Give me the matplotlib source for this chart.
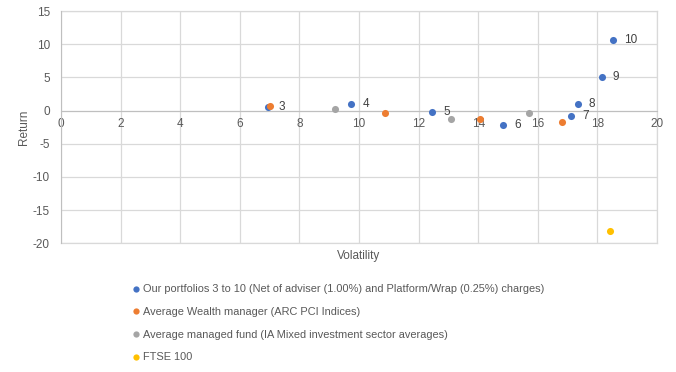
import numpy as np
import matplotlib
matplotlib.use("Agg")
import matplotlib.pyplot as plt
from matplotlib.lines import Line2D

plt.rcParams["font.family"] = ["Liberation Sans", "DejaVu Sans"]
plt.rcParams["axes.unicode_minus"] = False

# Our portfolios 3 to 10
port_names = ["3", "4", "5", "6", "7", "8", "9", "10"]
port_vol = [6.93, 9.74, 12.46, 14.83, 17.11, 17.34, 18.15, 18.52]
port_ret = [0.5, 1.0, -0.2, -2.15, -0.8, 1.05, 5.05, 10.65]

# Average Wealth manager (ARC PCI)
wealth_vol = [7.0, 10.87, 14.06, 16.81]
wealth_ret = [0.75, -0.35, -1.2, -1.65]

# Average managed fund (IA Mixed)
fund_vol = [9.21, 13.08, 15.70]
fund_ret = [0.25, -1.25, -0.3]

# FTSE 100
ftse_vol = [18.42]
ftse_ret = [-18.1]

labels = [
    "Our portfolios 3 to 10 (Net of adviser (1.00%) and Platform/Wrap (0.25%) charges)",
    "Average Wealth manager (ARC PCI Indices)",
    "Average managed fund (IA Mixed investment sector averages)",
    "FTSE 100",
]
colors = ["#4472C4", "#ED7D31", "#A5A5A5", "#FFC000"]
txt = "#595959"
grid = "#D9D9D9"

fig = plt.figure(figsize=(6.76, 3.72), dpi=100)
ax = fig.add_axes([61 / 676, 1 - 243.3 / 372, 596 / 676, 232.3 / 372])

ax.scatter(port_vol, port_ret, s=26, color=colors[0], zorder=3, linewidths=0)
ax.scatter(wealth_vol, wealth_ret, s=26, color=colors[1], zorder=3, linewidths=0)
ax.scatter(fund_vol, fund_ret, s=26, color=colors[2], zorder=3, linewidths=0)
ax.scatter(ftse_vol, ftse_ret, s=26, color=colors[3], zorder=3, linewidths=0)

for name, x, y in zip(port_names, port_vol, port_ret):
    ax.annotate(name, (x, y), xytext=(8, 0), textcoords="offset points",
                va="center", ha="left", fontsize=8.5, color="#404040")

ax.set_xlim(0, 20)
ax.set_ylim(-20, 15)
ax.set_xticks(np.arange(0, 21, 2))
ax.set_yticks(np.arange(-20, 16, 5))
ax.grid(True, color=grid, linewidth=0.9, zorder=0)
ax.set_axisbelow(True)
ax.axhline(-20, color=grid, linewidth=0.9, zorder=0, clip_on=False)
ax.axhline(15, color=grid, linewidth=0.9, zorder=0, clip_on=False)
ax.axvline(20, color=grid, linewidth=0.9, zorder=0, clip_on=False)

for s in ["top", "right"]:
    ax.spines[s].set_visible(False)
ax.spines["bottom"].set_position(("data", 0))
ax.spines["bottom"].set_color("#BFBFBF")
ax.spines["left"].set_color("#BFBFBF")
ax.tick_params(axis="both", length=0, labelsize=8.5, labelcolor=txt)
ax.tick_params(axis="x", pad=5)
ax.tick_params(axis="y", pad=8)

ax.set_xlabel("Volatility", fontsize=8.5, color=txt)
ax.xaxis.set_label_coords(0.5, -0.03)
ax.set_ylabel("Return", fontsize=8.5, color=txt)
ax.yaxis.set_label_coords(-0.052, 0.5)

handles = [Line2D([], [], marker="o", linestyle="", markersize=4.5,
                  markerfacecolor=c, markeredgewidth=0) for c in colors]
fig.legend(handles, labels, loc="upper left", bbox_to_anchor=(133 / 676, 1 - 284.5 / 372),
           frameon=False, fontsize=7.9, labelcolor=txt, handlelength=0.5,
           handletextpad=0.45, labelspacing=1.15, borderpad=0, borderaxespad=0)

fig.savefig("out.png", dpi=100)
